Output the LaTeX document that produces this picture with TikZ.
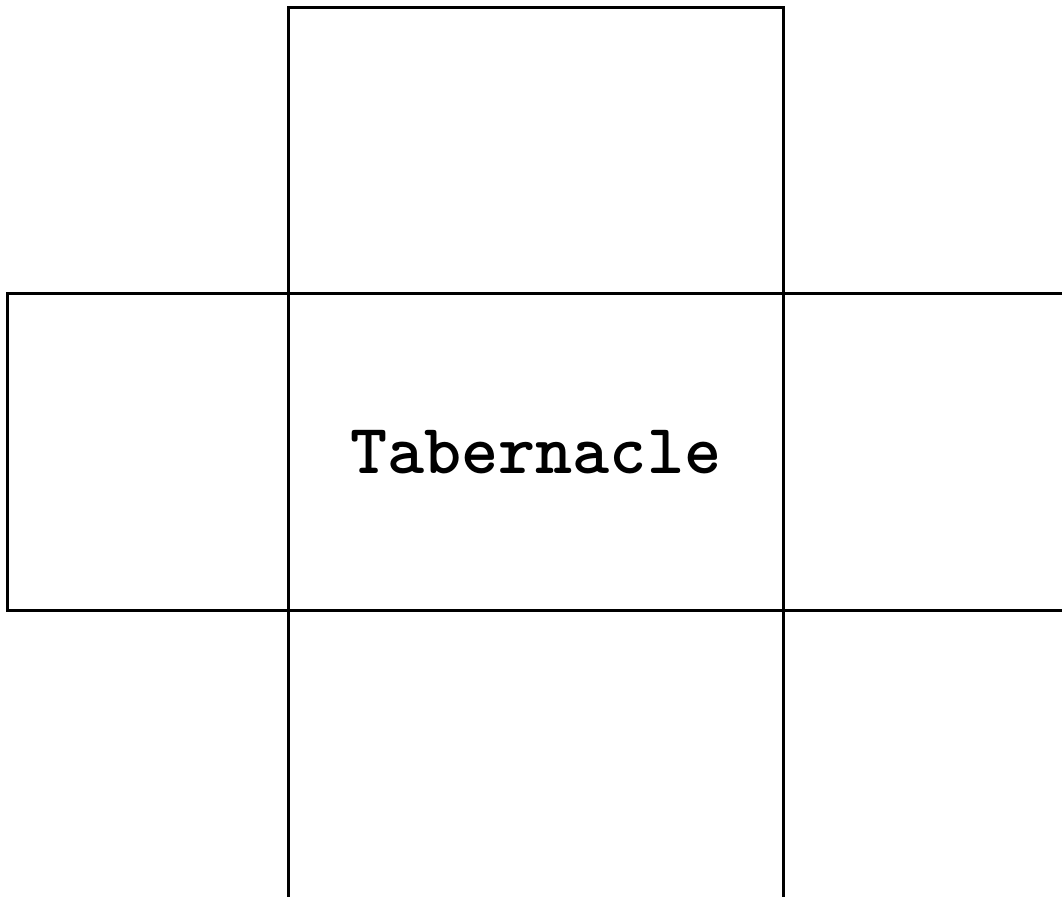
\documentclass[tikz,border=0pt]{standalone}
\usetikzlibrary{positioning}

\begin{document}
\begin{tikzpicture}[
    x=0.75pt, y=-0.75pt,
    node distance=0pt,
    cell/.style={draw, line width=2.25pt, rectangle, inner sep=0pt, outer sep=0pt},
    title/.style={font=\ttfamily\bfseries\fontsize{53}{60}\selectfont}
]
\clip (0,0) rectangle (1062,896);
\node[cell, title, minimum width=370.9pt, minimum height=238.1pt] (centre) at (535.75,452.25) {Tabernacle};
\node[cell, minimum width=370.9pt, minimum height=214.5pt, above=of centre] (north) {};
\node[cell, minimum width=210.75pt, minimum height=238.1pt, left=of centre] (west) {};
\node[cell, minimum width=225pt, minimum height=238.1pt, right=of centre] (east) {};
\node[cell, minimum width=370.9pt, minimum height=225pt, below=of centre] (south) {};
\end{tikzpicture}
\end{document}
